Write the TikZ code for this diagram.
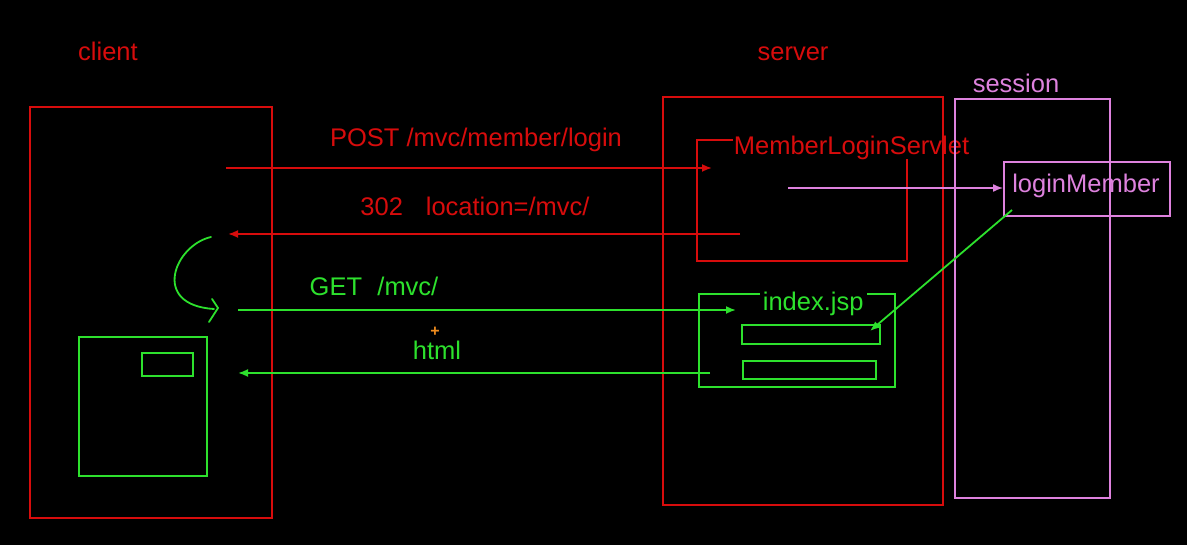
\documentclass[tikz,border=0pt]{standalone}
\usepackage{fontspec}
\setmainfont{Liberation Sans}
\usetikzlibrary{arrows.meta}
\definecolor{cred}{RGB}{215,12,12}
\definecolor{cgreen}{RGB}{45,225,45}
\definecolor{cpink}{RGB}{222,130,222}
\definecolor{corange}{RGB}{240,140,30}
\begin{document}
\begin{tikzpicture}[x=1pt,y=-1pt,line width=1.8pt,
  lbl/.style={font=\fontsize{25.5}{27}\selectfont,inner sep=0pt},
  arr/.style={-{Latex[length=10pt,width=8pt]}},
  box/.style={draw,inner sep=0pt}]
\fill[black] (0,0) rectangle (1187,545);
\useasboundingbox (0,0) rectangle (1187,545);

% titles
\node[lbl,text=cred,anchor=base] (tclient) at (108,61) {client};
\node[lbl,text=cred,anchor=base] (tserver) at (793,61) {server};
\node[lbl,text=cpink,anchor=base] (tsession) at (1016,93) {session};

% client
\draw[cred] (30,107) rectangle (272,518);
\draw[cgreen] (79,337) rectangle (207,476);
\draw[cgreen] (142,353) rectangle (193,376);

% server
\draw[cred] (663,97) rectangle (943,505);
\node[lbl,text=cred,anchor=base west] (servlet) at (733,155) {MemberLoginServlet};
\draw[cred] (733,140) -- (697,140) -- (697,261) -- (907,261) -- (907,159);

% index.jsp
\node[lbl,text=cgreen,anchor=base west] (jsp) at (762,311) {index.jsp};
\draw[cgreen] (760,294) -- (699,294) -- (699,387) -- (895,387) -- (895,294) -- (867,294);
\draw[cgreen] (742,325) rectangle (880,344);
\draw[cgreen] (743,361) rectangle (876,379);

% session
\draw[cpink] (955,99) rectangle (1110,498);
\draw[cpink] (1004,162) rectangle (1170,216);
\node[lbl,text=cpink,anchor=base] (lm) at (1086,193) {loginMember};

% coordinates
\coordinate (postS) at (226,168);
\coordinate (postE) at (712,168);
\coordinate (r302S) at (740,234);
\coordinate (r302E) at (228,234);
\coordinate (getS) at (238,310);
\coordinate (getE) at (736,310);
\coordinate (htmlS) at (710,373);
\coordinate (htmlE) at (238,373);
\coordinate (setS) at (788,188);
\coordinate (setE) at (1003,188);
\coordinate (useS) at (1012,210);
\coordinate (useE) at (870,331);
\coordinate (cvS) at (211,237);
\coordinate (cvE) at (214,309);

% arrows
\draw[cred,arr] (postS) -- (postE);
\node[lbl,text=cred,anchor=base] (lpost) at (476,147) {POST /mvc/member/login};
\draw[cred,arr] (r302S) -- (r302E);
\node[lbl,text=cred,anchor=base] (l302) at (475,216) {302\hspace{0.9em}location=/mvc/};
\draw[cgreen,arr] (getS) -- (getE);
\node[lbl,text=cgreen,anchor=base] (lget) at (374,296) {GET\hspace{0.6em}/mvc/};
\draw[cgreen,arr] (htmlS) -- (htmlE);
\node[lbl,text=cgreen,anchor=base] (lhtml) at (437,360) {html};
\node[text=corange,font=\fontsize{16}{16}\selectfont\bfseries,inner sep=0pt] (plus) at (435,332) {+};
\draw[cpink,line width=1.4pt,arr] (setS) -- (setE);
\draw[cgreen,arr] (useS) -- (useE);

% hand-drawn curved arrow
\draw[cgreen,line cap=round,line join=round] (cvS) .. controls (175,245) and (150,305) .. (cvE);
\draw[cgreen,line cap=round,line join=round] (212,299) -- (218,308) -- (209,322);
\end{tikzpicture}
\end{document}
